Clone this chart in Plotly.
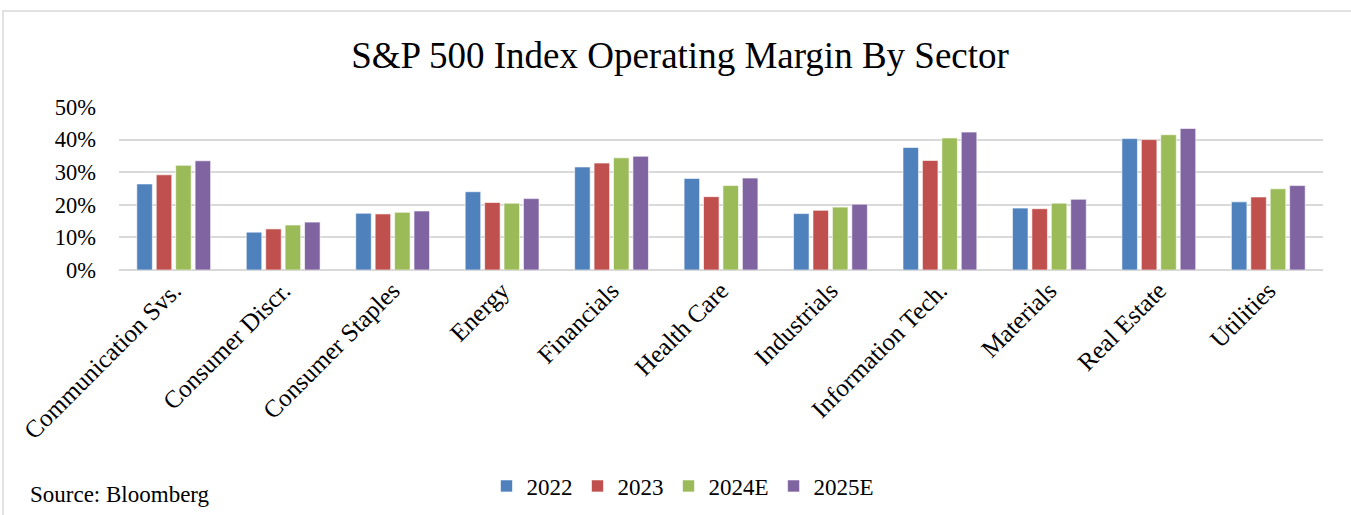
import plotly.graph_objects as go

sectors = ["Communication Svs.", "Consumer Discr.", "Consumer Staples", "Energy", "Financials",
           "Health Care", "Industrials", "Information Tech.", "Materials", "Real Estate", "Utilities"]
series_names = ["2022", "2023", "2024E", "2025E"]
v2022 = [26.4, 11.6, 17.4, 24.0, 31.6, 28.1, 17.3, 37.6, 19.0, 40.3, 20.9]
v2023 = [29.2, 12.6, 17.2, 20.7, 32.8, 22.5, 18.3, 33.6, 18.8, 40.0, 22.4]
v2024 = [32.1, 13.8, 17.7, 20.5, 34.4, 25.9, 19.3, 40.5, 20.5, 41.5, 24.9]
v2025 = [33.5, 14.7, 18.1, 21.9, 34.9, 28.2, 20.2, 42.3, 21.7, 43.4, 25.9]
colors = ["#4F81BD", "#C0504D", "#9BBB59", "#8064A2"]

W, H = 1351, 515
L, R, T, B = 119, 1323, 107, 270

def px(x):
    return (x - L) / (R - L)

def py(y):
    return (B - y) / (B - T)

fig = go.Figure()
for name, vals, c in zip(series_names, [v2022, v2023, v2024, v2025], colors):
    fig.add_trace(go.Bar(x=sectors, y=vals, name=name,
                         marker=dict(color=c, line=dict(color="rgba(255,255,255,0.6)", width=1))))

font = "Liberation Serif, Times New Roman, serif"
fig.update_layout(
    width=W, height=H,
    margin=dict(l=L, r=W - R, t=T, b=H - B, autoexpand=False),
    paper_bgcolor="white", plot_bgcolor="white",
    barmode="group", bargap=0.29, bargroupgap=0.2,
    font=dict(family=font, color="black", size=22),
    title=dict(text="S&P 500 Index Operating Margin By Sector", x=680 / W, xanchor="center",
               y=1 - 55 / H, yanchor="middle", yref="container",
               font=dict(family=font, size=37, color="black")),
    showlegend=True,
    legend=dict(orientation="h", x=px(683), xanchor="center", y=py(486), yanchor="middle",
                font=dict(family=font, size=23, color="black"), itemwidth=30, traceorder="normal",
                itemclick=False),
    xaxis=dict(showgrid=False, showline=False, tickangle=-45, tickfont=dict(family=font, size=25),
               ticks="", fixedrange=True),
    yaxis=dict(range=[0, 50], dtick=10, ticksuffix="%", showgrid=True, gridcolor="#d9d9d9", gridwidth=1.5,
               zeroline=True, zerolinecolor="#d9d9d9", zerolinewidth=1.5, showline=False,
               ticklabelstandoff=22, tickfont=dict(family=font, size=22.5), fixedrange=True),
    shapes=[dict(type="rect", xref="paper", yref="paper", x0=px(3), x1=px(1360), y0=py(530), y1=py(11),
                 line=dict(color="#d9d9d9", width=1.5), fillcolor="rgba(0,0,0,0)", layer="below")],
    annotations=[dict(text="Source: Bloomberg", xref="paper", yref="paper", x=px(28), y=py(494),
                      xanchor="left", yanchor="middle", showarrow=False,
                      font=dict(family=font, size=23, color="black"))],
)

fig.write_html("out.html", config={"displayModeBar": False},
               post_script="document.body.style.margin='0px';")
